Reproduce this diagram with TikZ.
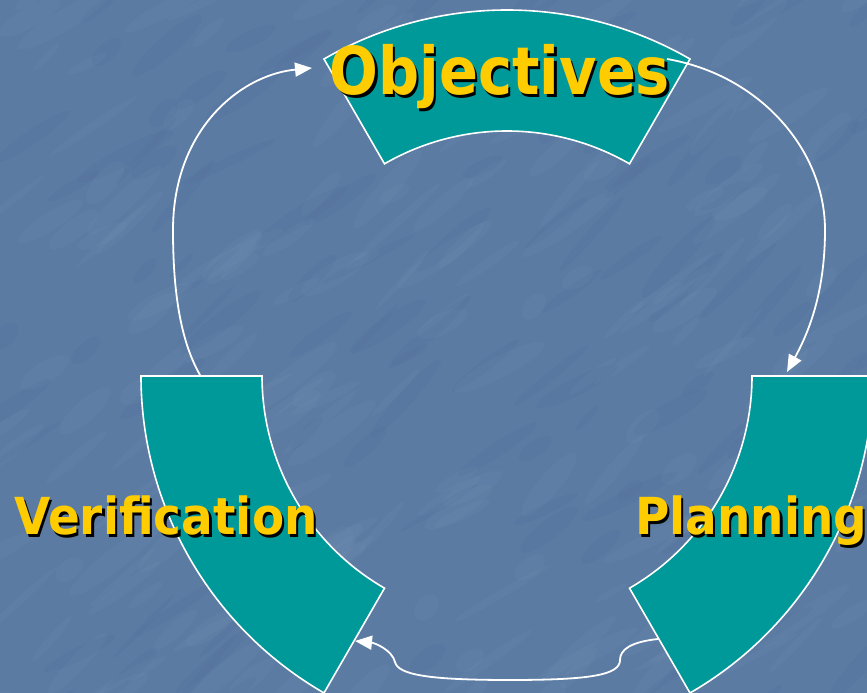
\documentclass[tikz,border=0pt]{standalone}
\usepackage{fontspec}
\setmainfont{DejaVu Sans}
\usetikzlibrary{arrows.meta,calc}
\definecolor{bgblue}{HTML}{5B7BA3}
\definecolor{sectorteal}{HTML}{009999}
\definecolor{labelgold}{HTML}{FFCC00}
% gold lettering with a black drop shadow
\newcommand\shadowed[1]{\makebox[0pt][l]{\hspace{2.5pt}\raisebox{-2.5pt}{\textcolor{black}{#1}}}\textcolor{labelgold}{#1}}
\begin{document}
\begin{tikzpicture}[x=1pt,y=1pt,
  sector/.style={fill=sectorteal,draw=white,line width=1.6pt,line join=miter},
  flow/.style={draw=white,line width=1.8pt,-{Triangle[length=17pt,width=14pt]}},
  bigtitle/.style={font=\fontsize{66}{70}\selectfont\bfseries,inner sep=0pt,anchor=base,xscale=0.87},
  smalltitle/.style={font=\fontsize{51}{55}\selectfont\bfseries,inner sep=0pt,anchor=base,xscale=0.92}]
% backdrop with a faint water-like mottling
\fill[bgblue] (0,0) rectangle (867,693);
\useasboundingbox (0,0) rectangle (867,693);
\clip (0,0) rectangle (867,693);
\pgfmathsetseed{42}
\foreach \i in {1,...,200}{
  \pgfmathsetmacro\px{rnd*900-15}
  \pgfmathsetmacro\py{rnd*720-15}
  \pgfmathsetmacro\rx{15+rnd*45}
  \pgfmathsetmacro\ry{3+rnd*8}
  \pgfmathsetmacro\ang{25+rnd*25}
  \fill[white,opacity=0.025] (\px,\py) ellipse[x radius=\rx,y radius=\ry,rotate=\ang];
}
\foreach \i in {1,...,120}{
  \pgfmathsetmacro\px{rnd*900-15}
  \pgfmathsetmacro\py{rnd*720-15}
  \pgfmathsetmacro\rx{15+rnd*40}
  \pgfmathsetmacro\ry{3+rnd*7}
  \pgfmathsetmacro\ang{25+rnd*25}
  \fill[black!60!blue,opacity=0.02] (\px,\py) ellipse[x radius=\rx,y radius=\ry,rotate=\ang];
}
\coordinate (C) at (507,317);
\def\Ro{366}
\def\Ri{245}
% three ring sectors
\draw[sector] ($(C)+(60:\Ro)$) arc[start angle=60,end angle=120,radius=\Ro]
  -- ($(C)+(120:\Ri)$) arc[start angle=120,end angle=60,radius=\Ri] -- cycle;
\draw[sector] ($(C)+(180:\Ro)$) arc[start angle=180,end angle=240,radius=\Ro]
  -- ($(C)+(240:\Ri)$) arc[start angle=240,end angle=180,radius=\Ri] -- cycle;
\draw[sector] ($(C)+(300:\Ro)$) arc[start angle=300,end angle=360,radius=\Ro]
  -- ($(C)+(360:\Ri)$) arc[start angle=360,end angle=300,radius=\Ri] -- cycle;
% connector end points
\coordinate (verTop) at (200,318);
\coordinate (objIn) at (312,625);
\coordinate (objOut) at (667,634);
\coordinate (plaIn) at (787,321);
\coordinate (plaOut) at (658,54);
\coordinate (verIn) at (355,52);
% connectors
\draw[flow] (verTop) .. controls (180,353) and (173,403) .. (173,463)
  .. controls (173,563) and (240,618) .. (objIn);
\draw[flow] (objOut) .. controls (760,618) and (825,543) .. (825,463)
  .. controls (825,403) and (810,363) .. (plaIn);
\draw[flow] (plaOut) .. controls (630,51) and (620,43) .. (620,33)
  .. controls (620,18) and (590,13) .. (510,13)
  .. controls (430,13) and (398,18) .. (395,31)
  .. controls (392,43) and (375,50) .. (verIn);
% labels
\node[bigtitle] (obj) at (500,598) {\shadowed{Objectives}};
\node[smalltitle] (ver) at (166,158) {\shadowed{Verification}};
\node[smalltitle,anchor=base west] (pla) at (635,158) {\shadowed{Planning}};
\end{tikzpicture}
\end{document}
